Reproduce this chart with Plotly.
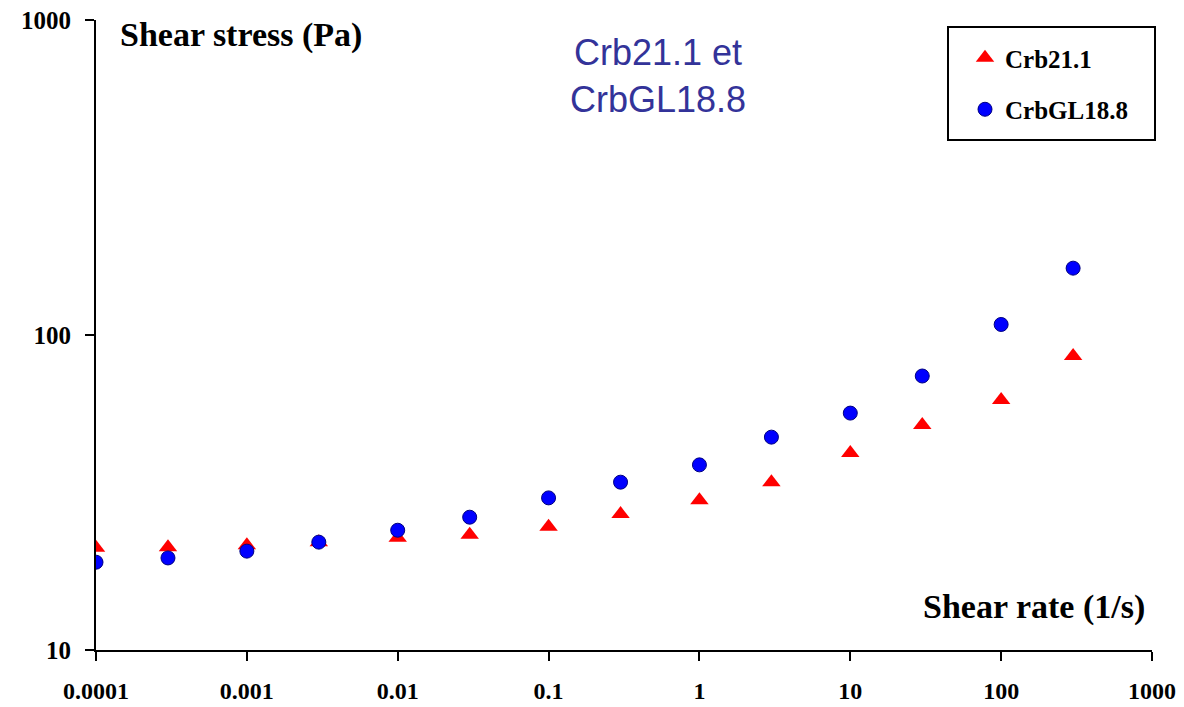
import plotly.graph_objects as go

shear_rate = [0.0001, 0.0003, 0.001, 0.003, 0.01, 0.03, 0.1, 0.3, 1, 3, 10, 30, 100, 300]
crb21 = [21.1, 21.2, 21.5, 22.0, 22.7, 23.2, 24.6, 27.0, 29.9, 34.1, 42.2, 51.8, 62.2, 85.8]
crbgl = [19.0, 19.6, 20.6, 22.0, 24.0, 26.4, 30.4, 34.1, 38.7, 47.4, 56.5, 74.1, 108, 163]
x_ticks = [0.0001, 0.001, 0.01, 0.1, 1, 10, 100, 1000]
x_ticklabels = ["0.0001", "0.001", "0.01", "0.1", "1", "10", "100", "1000"]
y_ticks = [10, 100, 1000]
y_ticklabels = ["10", "100", "1000"]

serif = "Liberation Serif, Times New Roman, serif"

fig = go.Figure()
fig.add_trace(go.Scatter(x=shear_rate, y=crb21, mode="markers", name="Crb21.1",
                         legendgroup="a",
                         marker=dict(symbol="triangle-up", size=16, color="#ff0000")))
fig.add_trace(go.Scatter(x=shear_rate, y=crbgl, mode="markers", name="CrbGL18.8",
                         legendgroup="b",
                         marker=dict(symbol="circle", size=14, color="#0000ff",
                                     line=dict(color="#000080", width=1))))

fig.update_layout(
    width=1184, height=707,
    margin=dict(l=96, r=32, t=20, b=57, autoexpand=False),
    paper_bgcolor="white", plot_bgcolor="white",
    showlegend=True,
    legend=dict(x=(965 - 96) / 1056, xref="paper", y=1 - 15 / 630, yref="paper",
                xanchor="left", yanchor="top",
                bgcolor="rgba(0,0,0,0)", borderwidth=0,
                font=dict(family=serif, size=25, color="black", weight="bold"),
                tracegroupgap=16, itemwidth=30),
    xaxis=dict(type="log", range=[-4, 3], tickvals=x_ticks, ticktext=x_ticklabels,
               automargin=False,
               showgrid=False, zeroline=False, showline=True, linecolor="black",
               linewidth=2, ticks="outside", ticklen=9, tickwidth=2, tickcolor="black",
               tickfont=dict(family=serif, size=24, color="black", weight="bold"),
               ticklabelstandoff=9),
    yaxis=dict(type="log", range=[1, 3], tickvals=y_ticks, ticktext=y_ticklabels,
               automargin=False,
               showgrid=False, zeroline=False, showline=True, linecolor="black",
               linewidth=2, ticks="outside", ticklen=9, tickwidth=2, tickcolor="black",
               tickfont=dict(family=serif, size=25, color="black", weight="bold"),
               ticklabelstandoff=9),
)

# legend frame
fig.add_shape(type="rect", xref="paper", yref="paper",
              x0=(948 - 96) / 1056, x1=(1155 - 96) / 1056,
              y0=1 - (140 - 20) / 630, y1=1 - (27 - 20) / 630,
              line=dict(color="black", width=2), fillcolor="rgba(0,0,0,0)", layer="above")

fig.add_annotation(text="<b>Shear stress (Pa)</b>", xref="paper", yref="paper",
                   x=(118 - 96) / 1056, y=1 - 15 / 630, xanchor="left", yanchor="middle",
                   showarrow=False, font=dict(family=serif, size=34, color="black"))
fig.add_annotation(text="<b>Shear rate (1/s)</b>", xref="paper", yref="paper",
                   x=(1147 - 96) / 1056, y=(650 - 607) / 630, xanchor="right", yanchor="middle",
                   showarrow=False, font=dict(family=serif, size=34, color="black"))
fig.add_annotation(text="Crb21.1 et<br>CrbGL18.8", xref="paper", yref="paper",
                   x=(658 - 96) / 1056, y=1 - 56 / 630, xanchor="center", yanchor="middle",
                   showarrow=False, font=dict(family="Liberation Sans, Arial, sans-serif",
                                              size=36, color="#333399"))

fig.write_html("out.html")
